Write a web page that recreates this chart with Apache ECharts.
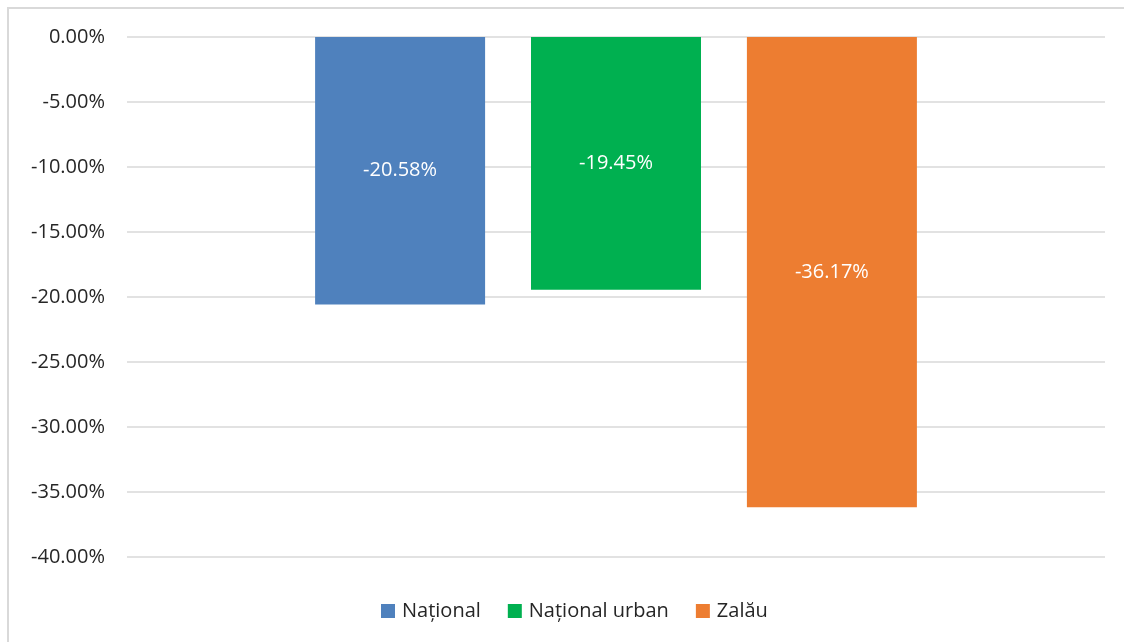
<!DOCTYPE html>
<html>
<head>
<meta charset="utf-8">
<script src="https://cdn.jsdelivr.net/npm/echarts@6/dist/echarts.min.js"></script>
<style>
html,body{margin:0;padding:0;background:#fff;overflow:hidden;}
#frame{position:absolute;left:7px;top:7px;width:1140px;height:660px;border:2px solid #d9d9d9;box-sizing:border-box;}
#chart{position:absolute;left:0;top:0;width:1124px;height:642px;}
</style>
</head>
<body>
<div id="frame"></div>
<div id="chart"></div>
<script>
var categories = [''];
var seriesNames = ['Național', 'Național urban', 'Zalău'];
var seriesValues = [-20.58, -19.45, -36.17];
var seriesColors = ['#4f81bd', '#00b050', '#ed7d31'];

var chart = echarts.init(document.getElementById('chart'));
var fontFam = '"Open Sans", "Noto Sans", sans-serif';
var series = seriesNames.map(function (n, i) {
  return {
    name: n,
    type: 'bar',
    data: [seriesValues[i]],
    barWidth: 170,
    barGap: '27%',
    itemStyle: { color: seriesColors[i] },
    label: {
      show: true,
      position: 'inside',
      color: '#ffffff',
      fontSize: 20,
      fontFamily: fontFam,
      formatter: function (p) { return p.value.toFixed(2) + '%'; }
    }
  };
});
chart.setOption({
  animation: false,
  backgroundColor: 'transparent',
  grid: { left: 127, right: 19, top: 37, bottom: 85, containLabel: false },
  legend: {
    top: 596,
    left: 376,
    itemWidth: 14,
    itemHeight: 14,
    itemGap: 27,
    icon: 'rect',
    textStyle: { fontSize: 20, color: '#262626', fontFamily: fontFam, padding: [0, 0, 0, 2] },
    data: seriesNames
  },
  xAxis: {
    type: 'category',
    data: categories,
    axisLine: { show: false },
    axisTick: { show: false },
    axisLabel: { show: false }
  },
  yAxis: {
    type: 'value',
    min: -40,
    max: 0,
    interval: 5,
    axisLine: { show: false },
    axisTick: { show: false },
    splitLine: { lineStyle: { color: '#d9d9d9', width: 1.5 } },
    axisLabel: {
      margin: 22,
      fontSize: 20,
      color: '#262626',
      fontFamily: fontFam,
      formatter: function (v) { return v.toFixed(2) + '%'; }
    }
  },
  series: series
});
</script>
</body>
</html>
